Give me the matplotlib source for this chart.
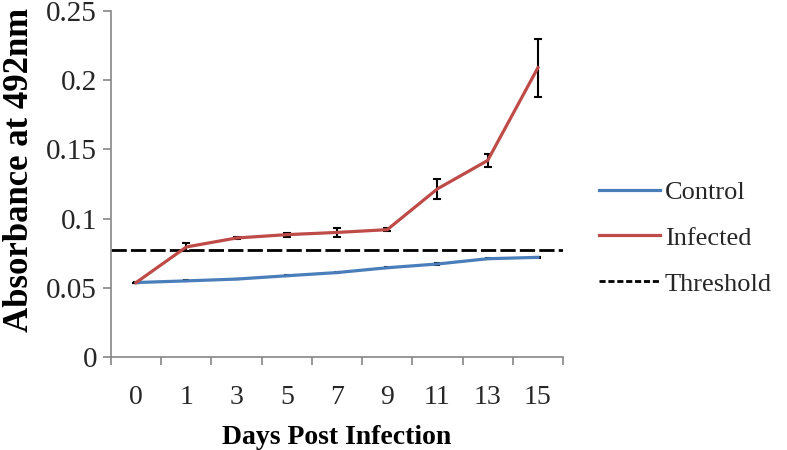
import numpy as np
import matplotlib
matplotlib.use('Agg')
import matplotlib.pyplot as plt
from matplotlib.lines import Line2D

days = ['0', '1', '3', '5', '7', '9', '11', '13', '15']
control = [0.0538, 0.0550, 0.0563, 0.0587, 0.0610, 0.0645, 0.0672, 0.0710, 0.0720]
control_err = [0.0004, 0.0003, 0.0003, 0.0003, 0.0003, 0.0003, 0.0004, 0.0004, 0.0005]
infected = [0.0538, 0.0795, 0.0860, 0.0884, 0.0900, 0.0920, 0.1215, 0.1420, 0.2090]
infected_err = [0.0, 0.0030, 0.0005, 0.0015, 0.0030, 0.0010, 0.0070, 0.0045, 0.0210]
threshold = 0.0775

plt.rcParams['font.family'] = ['Liberation Serif', 'DejaVu Serif']

fig = plt.figure(figsize=(7.87, 4.5), dpi=100)
ax = fig.add_axes([111/787, 93/450, 452/787, 346/450])

blue = '#4A7EBB'
red = '#BE4B48'

x = np.arange(len(days))
ax.errorbar(x, control, yerr=control_err, color=blue, lw=2.3, ecolor='black',
            elinewidth=1.5, capsize=2, capthick=1.5, zorder=3)
ax.errorbar(x, infected, yerr=infected_err, color=red, lw=2.3, ecolor='black',
            elinewidth=1.5, capsize=3, capthick=1.5, zorder=3)
ax.axhline(threshold, color='black', lw=2, dashes=(5.5, 1.5), zorder=2)

ax.set_xlim(-0.5, len(days) - 0.5)
ax.set_ylim(0, 0.25)
ax.set_yticks([0, 0.05, 0.1, 0.15, 0.2, 0.25])
ax.set_yticklabels(['0', '0.05', '0.1', '0.15', '0.2', '0.25'])
ax.set_xticks(x)
ax.set_xticklabels(days)
ax.set_xticks(np.arange(len(days) + 1) - 0.5, minor=True)
ax.tick_params(axis='x', which='major', length=0, pad=20, labelsize=20)
ax.tick_params(axis='x', which='minor', length=6, width=1.2, color='#868686', direction='out')
ax.tick_params(axis='y', length=6, width=1.2, color='#868686', labelsize=21, pad=4)
for lab in ax.get_xticklabels() + ax.get_yticklabels():
    lab.set_color('#262626')

for s in ['top', 'right']:
    ax.spines[s].set_visible(False)
for s in ['left', 'bottom']:
    ax.spines[s].set_color('#868686')
    ax.spines[s].set_linewidth(1.2)

ax.set_xlabel('Days Post Infection', fontsize=20, fontweight='bold')
ax.xaxis.set_label_coords(0.5, -(437 - 357) / 346, transform=ax.transAxes)
ax.xaxis.label.set_va('center')
ax.set_ylabel('Absorbance at 492nm', fontsize=25, fontweight='bold')
ax.yaxis.set_label_coords(-(111 - 20) / 452, (450 - 170 - 93) / 346, transform=ax.transAxes)
ax.yaxis.label.set_va('center')

handles = [Line2D([], [], color=blue, lw=2.3),
           Line2D([], [], color=red, lw=2.3),
           Line2D([], [], color='black', lw=2, dashes=(2.2, 1))]
labels = ['Control', 'Infected', 'Threshold']
leg = fig.legend(handles, labels, loc='center left', bbox_to_anchor=(599/787, 1 - 238/450),
                 frameon=False, fontsize=19, handlelength=2.3, handletextpad=0.2,
                 labelspacing=0.85, borderpad=0, borderaxespad=0)
for t in leg.get_texts():
    t.set_color('#262626')

plt.savefig('out.png', dpi=100)
plt.close()
